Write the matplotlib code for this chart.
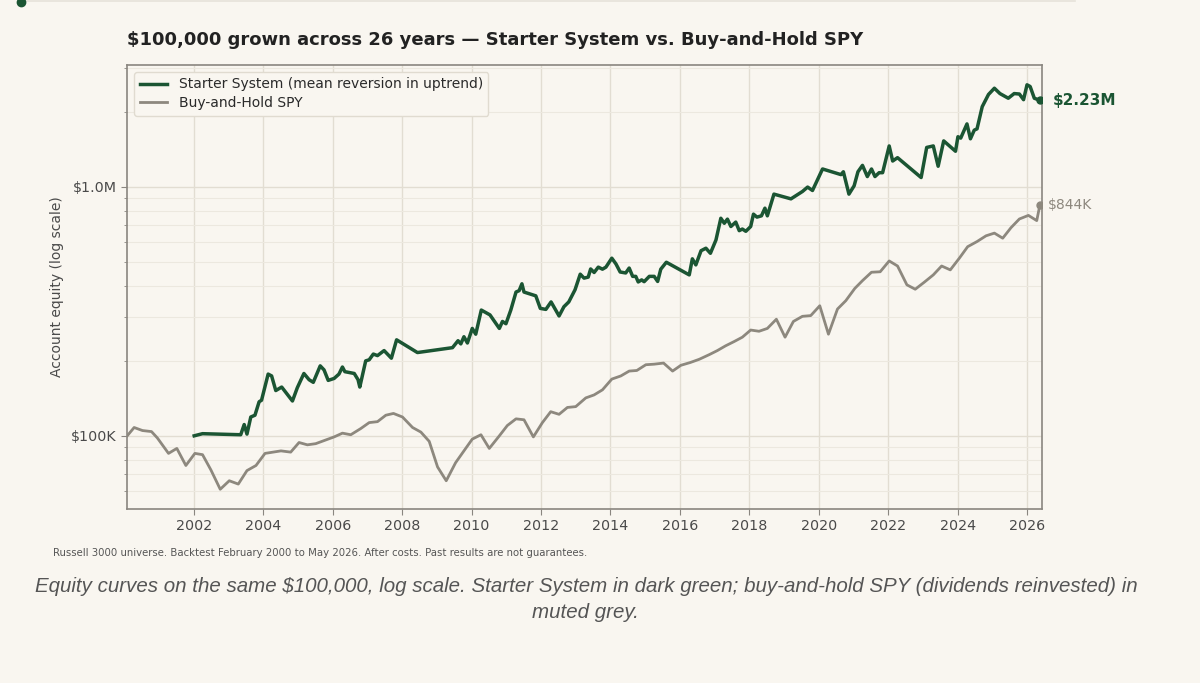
import matplotlib
matplotlib.use('Agg')
import matplotlib.pyplot as plt
from matplotlib.lines import Line2D
from matplotlib.ticker import FixedLocator, FuncFormatter, LogLocator, NullFormatter
import numpy as np

# equity curves, values in $K
sys_years = [2002.01, 2002.25, 2003.35, 2003.45, 2003.53, 2003.64, 2003.76, 2003.88, 2003.95,
             2004.14, 2004.24, 2004.36, 2004.53, 2004.84, 2004.98, 2005.17, 2005.32, 2005.44,
             2005.64, 2005.75, 2005.87, 2006.04, 2006.18, 2006.28, 2006.35, 2006.62, 2006.73,
             2006.78, 2006.95, 2007.05, 2007.17, 2007.29, 2007.48, 2007.69, 2007.84, 2008.44,
             2009.45, 2009.61, 2009.69, 2009.78, 2009.88, 2010.02, 2010.12, 2010.28, 2010.53,
             2010.80, 2010.89, 2010.99, 2011.13, 2011.28, 2011.37, 2011.45, 2011.51, 2011.85,
             2011.98, 2012.14, 2012.29, 2012.52, 2012.66, 2012.80, 2012.98, 2013.13, 2013.24,
             2013.36, 2013.43, 2013.53, 2013.65, 2013.77, 2013.87, 2014.04, 2014.16, 2014.28,
             2014.44, 2014.54, 2014.64, 2014.73, 2014.80, 2014.90, 2014.97, 2015.12, 2015.26,
             2015.36, 2015.45, 2015.61, 2016.27, 2016.36, 2016.46, 2016.61, 2016.75, 2016.88,
             2017.04, 2017.18, 2017.28, 2017.37, 2017.47, 2017.61, 2017.71, 2017.80, 2017.90,
             2018.04, 2018.12, 2018.22, 2018.35, 2018.45, 2018.52, 2018.71, 2019.20, 2019.53,
             2019.68, 2019.82, 2020.11, 2020.64, 2020.71, 2020.87, 2021.02, 2021.13, 2021.26,
             2021.40, 2021.52, 2021.62, 2021.74, 2021.84, 2022.03, 2022.13, 2022.27, 2022.95,
             2023.11, 2023.30, 2023.44, 2023.60, 2023.94, 2024.01, 2024.09, 2024.27, 2024.37,
             2024.48, 2024.56, 2024.71, 2024.89, 2025.06, 2025.22, 2025.46, 2025.63, 2025.78,
             2025.90, 2026.00, 2026.09, 2026.21, 2026.32, 2026.37]
sys_values = [100, 102, 101, 111, 101.6, 119, 121, 137, 139,
              177, 174, 152, 157, 138, 156, 178, 168, 164,
              191, 184, 167, 170, 177, 189, 181, 178, 168,
              157, 200, 202, 213, 210, 220, 205, 243, 216,
              226, 241, 234, 250, 236, 270, 256, 320, 306,
              270, 288, 282, 320, 378, 383, 408, 378, 365,
              325, 322, 345, 303, 330, 345, 386, 446, 430,
              434, 468, 453, 476, 467, 476, 517, 490, 455,
              451, 472, 437, 437, 415, 423, 416, 437, 437,
              417, 467, 498, 443, 514, 486, 554, 567, 541,
              612, 748, 714, 742, 693, 722, 667, 677, 663,
              693, 777, 756, 765, 821, 765, 935, 895, 958,
              998, 967, 1180, 1120, 1150, 935, 1010, 1150, 1220,
              1100, 1180, 1100, 1140, 1140, 1460, 1270, 1310, 1090,
              1440, 1460, 1210, 1530, 1390, 1590, 1570, 1790, 1560,
              1690, 1710, 2100, 2350, 2490, 2370, 2270, 2370, 2360,
              2240, 2570, 2530, 2270, 2240, 2230]

spy_years = [2000.08, 2000.28, 2000.52, 2000.78, 2000.95, 2001.27, 2001.51, 2001.77, 2002.03,
             2002.25, 2002.49, 2002.76, 2003.02, 2003.28, 2003.53, 2003.79, 2004.05, 2004.51,
             2004.79, 2005.03, 2005.27, 2005.51, 2006.04, 2006.28, 2006.52, 2006.81, 2007.05,
             2007.29, 2007.53, 2007.75, 2008.01, 2008.30, 2008.54, 2008.78, 2009.02, 2009.27,
             2009.54, 2009.78, 2010.02, 2010.27, 2010.51, 2010.80, 2011.03, 2011.28, 2011.51,
             2011.78, 2012.04, 2012.28, 2012.52, 2012.76, 2013.00, 2013.29, 2013.53, 2013.77,
             2014.04, 2014.30, 2014.54, 2014.76, 2015.02, 2015.26, 2015.53, 2015.79, 2016.03,
             2016.30, 2016.56, 2016.85, 2017.08, 2017.32, 2017.56, 2017.80, 2018.04, 2018.28,
             2018.52, 2018.78, 2019.03, 2019.27, 2019.53, 2019.77, 2020.03, 2020.28, 2020.54,
             2020.78, 2021.04, 2021.26, 2021.52, 2021.77, 2022.03, 2022.27, 2022.54, 2022.78,
             2023.04, 2023.30, 2023.54, 2023.79, 2024.05, 2024.29, 2024.56, 2024.82, 2025.06,
             2025.30, 2025.54, 2025.78, 2026.04, 2026.28, 2026.37]
spy_values = [100, 108, 105, 104, 98, 85, 89, 76, 85,
              84, 73, 61, 66, 64, 72.5, 76, 85, 87,
              86, 94, 92, 93, 99, 102.5, 101, 107, 113,
              114, 121, 123, 119, 108, 103.5, 95, 75, 66,
              78, 87, 97, 101, 89, 100, 110, 117, 116,
              99, 113, 125, 122, 130, 131, 142, 146, 153,
              169, 174, 182, 183, 193, 194, 196, 182, 192,
              197, 203, 212, 220, 230, 239, 249, 266, 263,
              270, 294, 249, 288, 302, 304, 333, 256, 323,
              349, 391, 420, 454, 456, 504, 481, 404, 388,
              414, 443, 481, 464, 517, 575, 603, 636, 652,
              622, 686, 743, 768, 732, 844]

year_ticks = [2002, 2004, 2006, 2008, 2010, 2012, 2014, 2016, 2018, 2020, 2022, 2024, 2026]

BG = '#f9f6f0'
GREEN = '#1b5533'
GREY = '#8d887e'
TXT = '#4a4a4a'

fig = plt.figure(figsize=(12, 6.83), dpi=100, facecolor=BG)
ax = fig.add_axes([0.106, 0.255, 0.762, 0.65])
ax.set_facecolor(BG)

sx = np.array(sys_years)
sy = np.array(sys_values) * 1000
bx = np.array(spy_years)
by = np.array(spy_values) * 1000

ax.plot(sx, sy, color=GREEN, lw=2.5, label='Starter System (mean reversion in uptrend)', zorder=4)
ax.plot(bx, by, color=GREY, lw=2.0, label='Buy-and-Hold SPY', zorder=3)
ax.plot(sx[-1], sy[-1], 'o', color=GREEN, ms=5, zorder=5)
ax.plot(bx[-1], by[-1], 'o', color=GREY, ms=5, zorder=5)

ax.annotate('$%.2fM' % (sy[-1] / 1e6), (sx[-1], sy[-1]), xytext=(9, 0),
            textcoords='offset points', va='center', ha='left',
            fontsize=11, fontweight='bold', color=GREEN)
ax.annotate('$%dK' % round(by[-1] / 1e3), (bx[-1], by[-1]), xytext=(6, 0),
            textcoords='offset points', va='center', ha='left',
            fontsize=10, color=GREY)

ax.set_yscale('log')
ax.set_xlim(2000.08, 2026.42)
ax.set_ylim(50900, 3.09e6)

ax.yaxis.set_major_locator(FixedLocator([1e5, 1e6]))
ax.yaxis.set_major_formatter(FuncFormatter(lambda v, p: '$100K' if v < 5e5 else '$1.0M'))
ax.yaxis.set_minor_locator(LogLocator(base=10, subs=np.arange(2, 10)))
ax.yaxis.set_minor_formatter(NullFormatter())
ax.set_xticks(year_ticks)
ax.set_xticklabels([str(y) for y in year_ticks])

ax.grid(True, which='major', color='#e2ddd2', lw=1.0)
ax.grid(True, which='minor', axis='y', color='#ece8df', lw=0.8)
ax.set_axisbelow(True)

for s in ax.spines.values():
    s.set_color('#8a8680')
    s.set_linewidth(1.2)
ax.tick_params(which='both', colors='#8a8680', labelcolor=TXT, labelsize=10.3)
ax.tick_params(which='major', length=4)
ax.tick_params(which='minor', length=2.5)

ax.set_ylabel('Account equity (log scale)', fontsize=10, color=TXT, labelpad=5)
ax.set_title('$100,000 grown across 26 years — Starter System vs. Buy-and-Hold SPY',
             loc='left', fontsize=13, fontweight='bold', color='#222222', pad=14)

leg = ax.legend(loc='upper left', fontsize=10, frameon=True, facecolor=BG,
                edgecolor='#e0dbd0', framealpha=1.0, handlelength=2.0,
                borderpad=0.4, labelspacing=0.35)
for t in leg.get_texts():
    t.set_color('#2a2a2a')

fig.text(53 / 1200, 1 - 553 / 683,
         'Russell 3000 universe. Backtest February 2000 to May 2026. After costs. '
         'Past results are not guarantees.',
         fontsize=7.3, color='#555555', va='center', ha='left')

cap_font = ['Liberation Sans', 'DejaVu Sans']
fig.text(586 / 1200, 1 - 586 / 683,
         'Equity curves on the same $100,000, log scale. Starter System in dark green; '
         'buy-and-hold SPY (dividends reinvested) in',
         fontsize=14.8, style='italic', family=cap_font, color='#555555',
         va='center', ha='center')
fig.text(585 / 1200, 1 - 613 / 683, 'muted grey.',
         fontsize=14.8, style='italic', family=cap_font, color='#555555',
         va='center', ha='center')

# page decoration along the very top edge
fig.add_artist(Line2D([21 / 1200, 1075 / 1200], [0.999, 0.999], transform=fig.transFigure,
                      color='#e6e2da', lw=1.2))
fig.add_artist(Line2D([21 / 1200], [0.997], transform=fig.transFigure, marker='o',
                      color=GREEN, ms=6))

fig.savefig('out.png', dpi=100, facecolor=BG)
